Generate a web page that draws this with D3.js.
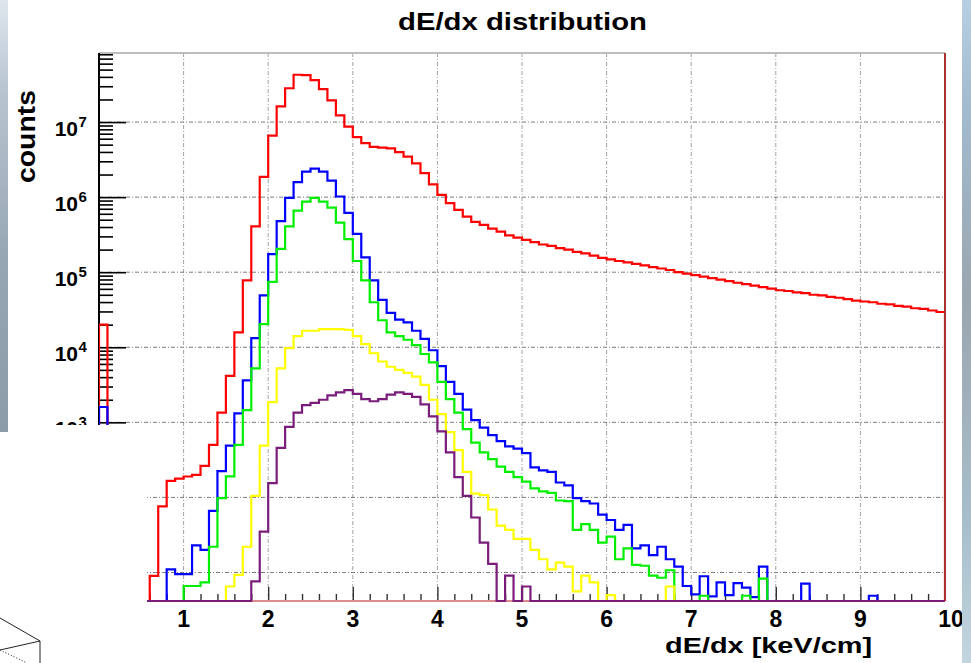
<!DOCTYPE html>
<html>
<head>
<meta charset="utf-8">
<script src="https://cdn.jsdelivr.net/npm/d3@7/dist/d3.min.js"></script>
<style>
html, body { margin: 0; padding: 0; background: #fff; overflow: hidden; }
svg { display: block; font-family: "Liberation Sans", Arial, Helvetica, sans-serif; font-weight: bold; }
</style>
</head>
<body>
<div id="chart"></div>
<script>
"use strict";
// histogram bins: 100 bins of 0.1 keV/cm from 0 to 10
var binWidth = 0.1;
var xTickValues = [1, 2, 3, 4, 5, 6, 7, 8, 9, 10];
var yDecades = [1, 2, 3, 4, 5, 6, 7];

var redCounts = [
    20000, 0, 0, 0, 0, 0, 9, 76, 166, 178,
    190, 200, 263, 500, 1350, 4170, 15800, 77600, 407000, 1860000,
    6600000, 16200000, 28200000, 42700000, 42300000, 36300000, 27500000, 19500000, 12300000, 8700000,
    6300000, 5250000, 4680000, 4570000, 4470000, 3980000, 3470000, 2820000, 2090000, 1480000,
    1070000, 832000, 676000, 550000, 468000, 427000, 380000, 347000, 309000, 288000,
    269000, 251000, 234000, 224000, 209000, 200000, 186000, 178000, 166000, 155000,
    148000, 141000, 135000, 129000, 123000, 117000, 112000, 107000, 100000, 95500,
    91200, 87100, 83200, 79400, 75900, 72400, 69200, 66100, 63100, 60300,
    57500, 56200, 53700, 52500, 50100, 49000, 46800, 45700, 43700, 41700,
    40700, 39800, 38000, 37200, 35500, 34700, 33100, 32400, 30900, 29500
];
var blueCounts = [
    1600, 0, 0, 0, 0, 0, 0, 0, 11, 9.5,
    9.5, 23, 20, 66, 224, 490, 1320, 3630, 13200, 49000,
    174000, 479000, 977000, 1580000, 2190000, 2400000, 2190000, 1660000, 1020000, 617000,
    324000, 158000, 77600, 42700, 28800, 23400, 21400, 16600, 12900, 9120,
    5620, 3470, 2400, 1480, 1070, 851, 676, 562, 479, 447,
    389, 251, 229, 219, 158, 145, 98, 89, 83, 59,
    50, 37, 43, 21, 23, 17, 22, 15, 12, 6.6,
    5.1, 8.9, 4.8, 7.4, 5.0, 7.2, 6.3, 4.7, 12, 0,
    0, 0, 0, 7.1, 0, 0, 0, 0, 0, 0,
    0, 4.9, 0, 0, 0, 0, 0, 0, 0, 0
];
var greenCounts = [
    0, 0, 0, 0, 0, 0, 0, 0, 0, 0,
    6.6, 6.6, 7.4, 22, 98, 191, 501, 1450, 5250, 20400,
    74100, 204000, 407000, 661000, 871000, 977000, 871000, 724000, 457000, 275000,
    141000, 77600, 39800, 22900, 15800, 14100, 12600, 10700, 8130, 6310,
    3470, 2040, 1350, 813, 537, 398, 324, 257, 219, 186,
    162, 132, 120, 115, 91, 89, 37, 44, 37, 25,
    30, 15, 21, 12.6, 12.3, 9.1, 8.5, 10.7, 0, 0,
    0, 4.9, 0, 0, 0, 0, 4.9, 0, 8.3, 0,
    0, 0, 0, 0, 0, 0, 0, 0, 0, 0,
    0, 0, 0, 0, 0, 0, 0, 0, 0, 0
];
var yellowCounts = [
    0, 0, 0, 0, 0, 0, 0, 0, 0, 0,
    0, 0, 0, 0, 0, 6.5, 9.3, 22, 105, 490,
    1860, 5250, 9770, 14100, 16600, 16600, 17400, 17400, 17400, 17000,
    14100, 11000, 8320, 6460, 5500, 5010, 4570, 4070, 3160, 2000,
    1290, 741, 427, 219, 112, 107, 69, 42, 37, 28,
    28, 20, 15, 11, 13.5, 12, 5.6, 9.1, 7.4, 0,
    5.0, 0, 0, 0, 0, 0, 0, 6.5, 0, 0,
    0, 0, 0, 0, 0, 0, 0, 0, 0, 0,
    0, 0, 0, 0, 0, 0, 0, 0, 0, 0,
    0, 0, 0, 0, 0, 0, 0, 0, 0, 0
];
var purpleCounts = [
    0, 0, 0, 0, 0, 0, 0, 0, 0, 0,
    0, 0, 0, 0, 0, 0, 0, 0, 7.6, 35,
    155, 457, 871, 1350, 1700, 1820, 2000, 2290, 2510, 2690,
    2400, 2040, 1910, 2040, 2340, 2510, 2400, 2190, 1740, 1200,
    759, 398, 186, 105, 54, 25, 13, 0, 9.1, 0,
    6.5, 0, 0, 0, 0, 0, 0, 0, 0, 0,
    0, 0, 0, 0, 0, 0, 0, 0, 0, 0,
    0, 0, 0, 0, 0, 0, 0, 0, 0, 0,
    0, 0, 0, 0, 0, 0, 0, 0, 0, 0,
    0, 0, 0, 0, 0, 0, 0, 0, 0, 0
];

var series = [
    { name: "red", color: "#ff0000", counts: redCounts },
    { name: "blue", color: "#0000ff", counts: blueCounts },
    { name: "green", color: "#00ee00", counts: greenCounts },
    { name: "yellow", color: "#ffff00", counts: yellowCounts },
    { name: "purple", color: "#7a1c7a", counts: purpleCounts }
];

var width = 971, height = 663;
var margin = { left: 99, right: 26, top: 53, bottom: 62 };
var plotW = width - margin.left - margin.right;
var plotH = height - margin.top - margin.bottom;
var yMin = Math.pow(10, 0.62), yMax = Math.pow(10, 7.92);

var xScale = d3.scaleLinear().domain([0, 10]).range([margin.left, margin.left + plotW]);
var yScale = d3.scaleLog().domain([yMin, yMax]).range([margin.top + plotH, margin.top]);

var svg = d3.select("#chart").append("svg")
    .attr("width", width)
    .attr("height", height);

var defs = svg.append("defs");
defs.append("clipPath").attr("id", "plotClip")
    .append("rect")
    .attr("x", margin.left).attr("y", margin.top)
    .attr("width", plotW).attr("height", plotH + 1.5);

var gLeft = defs.append("linearGradient").attr("id", "skyLeft").attr("x1", 0).attr("y1", 0).attr("x2", 0).attr("y2", 1);
gLeft.append("stop").attr("offset", "0").attr("stop-color", "#dfe6ee");
gLeft.append("stop").attr("offset", "0.2").attr("stop-color", "#b9c6d2");
gLeft.append("stop").attr("offset", "0.6").attr("stop-color", "#96a6b2");
gLeft.append("stop").attr("offset", "1").attr("stop-color", "#8c9ca8");
var gRight = defs.append("linearGradient").attr("id", "skyRight").attr("x1", 0).attr("y1", 0).attr("x2", 0).attr("y2", 1);
gRight.append("stop").attr("offset", "0").attr("stop-color", "#b6cfe2");
gRight.append("stop").attr("offset", "0.15").attr("stop-color", "#a3bcd0");
gRight.append("stop").attr("offset", "0.45").attr("stop-color", "#9aa6b0");
gRight.append("stop").attr("offset", "0.8").attr("stop-color", "#a9bfcc");
gRight.append("stop").attr("offset", "1").attr("stop-color", "#c3d5df");

// grid
var grid = svg.append("g").attr("class", "grid")
    .attr("stroke", "#7c7c7c").attr("stroke-width", 1)
    .attr("stroke-dasharray", "4,2,1,2");
grid.selectAll("line.gx").data(xTickValues.slice(0, 9)).enter().append("line")
    .attr("class", "gx")
    .attr("x1", function (d) { return xScale(d); }).attr("x2", function (d) { return xScale(d); })
    .attr("y1", margin.top).attr("y2", margin.top + plotH)
    .attr("stroke", "#a0a0a0");
grid.selectAll("line.gy").data(yDecades).enter().append("line")
    .attr("class", "gy")
    .attr("x1", margin.left).attr("x2", margin.left + plotW)
    .attr("y1", function (d) { return yScale(Math.pow(10, d)); })
    .attr("y2", function (d) { return yScale(Math.pow(10, d)); });

// frame
svg.append("line")
    .attr("x1", margin.left).attr("x2", margin.left + plotW)
    .attr("y1", margin.top).attr("y2", margin.top)
    .attr("stroke", "#bdbdbd").attr("stroke-width", 2);

// y axis ticks
var minorY = [];
for (var e = 0; e <= 7; e++) {
    for (var m = 2; m <= 9; m++) {
        var v = m * Math.pow(10, e);
        if (v > yMin && v < yMax) minorY.push(v);
    }
}
var yAxisMinor = d3.axisLeft(yScale).tickValues(minorY).tickSize(-14).tickFormat("");
var yAxisMajor = d3.axisLeft(yScale).tickValues(yDecades.map(function (d) { return Math.pow(10, d); }))
    .tickSize(-27).tickFormat("");
[yAxisMinor, yAxisMajor].forEach(function (ax) {
    var g = svg.append("g").attr("class", "y axis")
        .attr("transform", "translate(" + margin.left + ",0)")
        .call(ax);
    g.select(".domain").remove();
    g.selectAll(".tick line").attr("stroke", "#000").attr("stroke-width", 1.6);
});

// x axis ticks
var minorX = [];
for (var i = 1; i < 50; i++) {
    if (i % 5 !== 0) minorX.push(i * 0.2);
}
var xAxisMinor = d3.axisBottom(xScale).tickValues(minorX).tickSize(-7).tickFormat("");
var xAxisMajor = d3.axisBottom(xScale).tickValues(xTickValues.slice(0, 9)).tickSize(-14).tickFormat("");
[xAxisMinor, xAxisMajor].forEach(function (ax) {
    var g = svg.append("g").attr("class", "x axis")
        .attr("transform", "translate(0," + (margin.top + plotH) + ")")
        .call(ax);
    g.select(".domain").remove();
    g.selectAll(".tick line").attr("stroke", "#333").attr("stroke-width", 1.4);
});

// axis lines
svg.append("line")
    .attr("x1", margin.left).attr("x2", margin.left)
    .attr("y1", margin.top).attr("y2", margin.top + plotH)
    .attr("stroke", "#000").attr("stroke-width", 2);
svg.append("line")
    .attr("x1", margin.left).attr("x2", margin.left + plotW)
    .attr("y1", margin.top + plotH).attr("y2", margin.top + plotH)
    .attr("stroke", "#dc8c8c").attr("stroke-width", 2);

// histograms (zero / tiny bins sit on the bottom of the log axis)
var histLine = d3.line()
    .x(function (d) { return xScale(d[0]); })
    .y(function (d) { return yScale(Math.max(d[1], yMin)); });
function histPoints(counts) {
    var pts = [[0, yMin]];
    counts.forEach(function (c, k) {
        pts.push([k * binWidth, c]);
        pts.push([(k + 1) * binWidth, c]);
    });
    pts.push([counts.length * binWidth, yMin]);
    return pts;
}
svg.append("g").attr("clip-path", "url(#plotClip)")
    .selectAll("path.hist").data(series).enter().append("path")
    .attr("class", "hist")
    .attr("d", function (d) { return histLine(histPoints(d.counts)); })
    .attr("fill", "none")
    .attr("stroke", function (d) { return d.color; })
    .attr("stroke-width", 2.2)
    .attr("stroke-linejoin", "miter");

// right frame edge
svg.append("line")
    .attr("x1", margin.left + plotW).attr("x2", margin.left + plotW)
    .attr("y1", margin.top).attr("y2", margin.top + plotH)
    .attr("stroke", "#a83232").attr("stroke-width", 2);

// y tick labels 10^n
var yLab = svg.append("g").attr("class", "ylabels").attr("fill", "#000");
yLab.selectAll("text.base").data(yDecades).enter().append("text")
    .attr("class", "base")
    .attr("x", 78).attr("y", function (d) { return yScale(Math.pow(10, d)) + 13.5; })
    .attr("text-anchor", "end").attr("font-size", 21)
    .text("10");
yLab.selectAll("text.exp").data(yDecades).enter().append("text")
    .attr("class", "exp")
    .attr("x", 78.5).attr("y", function (d) { return yScale(Math.pow(10, d)) + 5; })
    .attr("text-anchor", "start").attr("font-size", 15)
    .text(function (d) { return d; });

// x tick labels
svg.append("g").selectAll("text").data(xTickValues).enter().append("text")
    .attr("x", function (d) { return d === 10 ? xScale(d) + 6 : xScale(d); })
    .attr("y", 627)
    .attr("text-anchor", "middle").attr("font-size", 23)
    .text(function (d) { return d; });

// titles
svg.append("text")
    .attr("x", 398).attr("y", 30)
    .attr("font-size", 24)
    .attr("textLength", 249).attr("lengthAdjust", "spacingAndGlyphs")
    .text("dE/dx distribution");
svg.append("text")
    .attr("x", 665).attr("y", 653)
    .attr("font-size", 22)
    .attr("textLength", 207).attr("lengthAdjust", "spacingAndGlyphs")
    .text("dE/dx [keV/cm]");
svg.append("text")
    .attr("transform", "translate(35,183) rotate(-90)")
    .attr("font-size", 25)
    .attr("textLength", 93).attr("lengthAdjust", "spacingAndGlyphs")
    .text("counts");

// slide overlay: white patch bottom-left, sky edges, sketch lines
svg.append("rect").attr("x", 8).attr("y", 425).attr("width", 139).attr("height", 238).attr("fill", "#fff");
svg.append("rect").attr("x", 0).attr("y", 432).attr("width", 8).attr("height", 231).attr("fill", "#fff");
svg.append("rect").attr("x", 0).attr("y", 0).attr("width", 8).attr("height", 432).attr("fill", "url(#skyLeft)");
svg.append("rect").attr("x", 962).attr("y", 0).attr("width", 9).attr("height", 663).attr("fill", "url(#skyRight)");
var sketch = svg.append("g").attr("stroke", "#222").attr("stroke-width", 1).attr("fill", "none");
sketch.append("path").attr("d", "M0,618 L40,641 L40,663 M0,650 L40,641");
sketch.append("path").attr("d", "M0,650 L27,663").attr("stroke-dasharray", "1,2");
</script>
</body>
</html>
